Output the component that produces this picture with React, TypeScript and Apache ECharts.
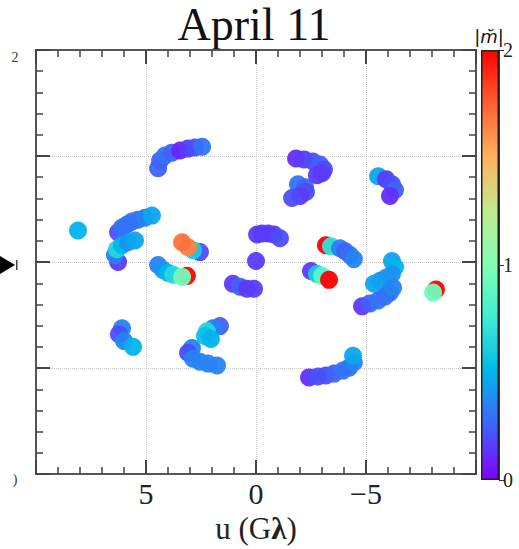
import React, { useEffect, useRef } from "react";
import * as echarts from "echarts";

// u coordinate (Gλ) of each visibility sample
const uVals = [
  // track A
  4.45, 4.36, 4.14, 3.82, 3.45, 3.09, 2.77, 2.45,
  // track B
  6.27, 6.09, 5.86, 5.64, 5.36, 5.05, 4.73,
  // isolated
  8.09,
  // track C
  6.27, 6.41, 6.32, 6.09, 5.82, 5.5,
  // track D
  2.55, 2.86, 3.09, 3.36,
  // track E
  4.45, 4.23, 4.0, 3.77, 3.14, 3.36,
  // track F
  1.05, 0.73, 0.41, 0.09,
  // centre
  0.0,
  // track G
  -0.05, -0.27, -0.55, -0.82, -1.09,
  // track H
  -3.18, -3.41, -3.82, -4.05, -4.27, -4.45,
  // track I
  -2.5, -2.77, -3.0, -3.32,
  // track J
  -6.18, -6.32, -6.18, -5.91, -5.64, -5.36,
  // track K
  -4.82, -5.18, -5.55, -5.86, -6.09, -6.23,
  // track L
  -8.18, -8.05,
  // track M
  -1.82, -2.18, -2.59, -2.91, -3.09, -3.0, -2.77,
  // track N
  -1.91, -2.23, -2.27, -2.0, -1.64,
  // track O
  -5.55, -5.91, -6.18, -6.32, -6.09,
  // track P
  6.09, 6.23, 6.0, 5.59,
  // track Q
  1.64, 1.95, 2.23, 2.32, 2.05, 2.91, 3.09, 2.86, 2.55, 2.18, 1.77,
  // track R
  -2.41, -2.82, -3.18, -3.55, -3.95, -4.23, -4.45, -4.41,
];

// v coordinate (Gλ)
const vVals = [
  4.42, 4.79, 5.02, 5.16, 5.26, 5.35, 5.4, 5.44,
  1.4, 1.63, 1.77, 1.91, 2.0, 2.09, 2.19,
  1.49,
  0.0, 0.33, 0.6, 0.79, 0.93, 1.02,
  0.47, 0.56, 0.7, 0.93,
  -0.14, -0.37, -0.51, -0.6, -0.65, -0.7,
  -1.02, -1.16, -1.26, -1.26,
  0.05,
  1.3, 1.35, 1.35, 1.3, 1.12,
  0.79, 0.74, 0.65, 0.51, 0.33, 0.14,
  -0.42, -0.56, -0.65, -0.84,
  0.05, -0.23, -0.56, -0.74, -0.88, -1.02,
  -2.09, -1.95, -1.81, -1.63, -1.44, -1.21,
  -1.3, -1.44,
  4.88, 4.84, 4.74, 4.6, 4.37, 4.19, 4.09,
  3.67, 3.53, 3.3, 3.12, 3.02,
  4.05, 3.91, 3.67, 3.4, 3.12,
  -3.12, -3.4, -3.72, -4.0,
  -3.02, -3.12, -3.26, -3.49, -3.63, -4.05, -4.28, -4.56, -4.7, -4.79, -4.88,
  -5.44, -5.4, -5.35, -5.26, -5.12, -4.98, -4.74, -4.42,
];

// |m| value of each sample (colour)
const mVals = [
  0.25, 0.25, 0.3, 0.25, 0.1, 0.15, 0.2, 0.3,
  0.2, 0.3, 0.3, 0.3, 0.3, 0.35, 0.45,
  0.5,
  0.15, 0.35, 0.65, 0.5, 0.4, 0.45,
  0.2, 0.6, 1.65, 1.7,
  0.35, 0.4, 0.5, 0.65, 2.0, 0.95,
  0.15, 0.25, 0.15, 0.15,
  0.15,
  0.15, 0.15, 0.15, 0.15, 0.2,
  2.0, 0.7, 0.35, 0.25, 0.3, 0.35,
  0.15, 0.6, 0.85, 2.0,
  0.45, 0.5, 0.4, 0.4, 0.4, 0.45,
  0.15, 0.25, 0.3, 0.3, 0.3, 0.35,
  2.0, 0.95,
  0.12, 0.15, 0.2, 0.25, 0.2, 0.15, 0.15,
  0.3, 0.25, 0.2, 0.15, 0.2,
  0.45, 0.15, 0.2, 0.25, 0.12,
  0.35, 0.2, 0.35, 0.5,
  0.25, 0.35, 0.65, 0.55, 0.5, 0.35, 0.2, 0.35, 0.35, 0.35, 0.35,
  0.12, 0.2, 0.2, 0.25, 0.3, 0.3, 0.35, 0.45,
];

const colorbarTicks = [0, 1, 2];
const xTickLabels = [5, 0, -5];

const rainbow = [
  "#8000ff", "#4062fa", "#00b5eb", "#40ecd4", "#80ffb4",
  "#c0eb8d", "#ffb360", "#ff6230", "#ff0000",
];

const serif = "Liberation Serif";

export default function App() {
  const ref = useRef<HTMLDivElement>(null);
  useEffect(() => {
    if (!ref.current) return;
    const chart = echarts.init(ref.current, null, { renderer: "svg" });
    const data = uVals.map((u, i) => [u, vVals[i], mVals[i]]);
    const fmt = (v: number) => (v < 0 ? "\u2212" + -v : String(v));

    const mainAxisCommon = {
      type: "value" as const,
      min: -10,
      max: 10,
      interval: 5,
      axisLine: { show: true, onZero: false, lineStyle: { color: "#555", width: 2 } },
      axisTick: { show: true, inside: true, length: 14, lineStyle: { color: "#444", width: 2 } },
      minorTick: { show: true, splitNumber: 5, length: 7, lineStyle: { color: "#444", width: 1.5 } },
    };

    const gradStops = rainbow.map((c, i) => ({ offset: i / (rainbow.length - 1), color: c }));

    chart.setOption({
      animation: false,
      backgroundColor: "#fff",
      grid: [
        { left: 36, top: 50, width: 440, height: 430 },
        { left: 481, top: 50, width: 18, height: 430 },
      ],
      xAxis: [
        {
          ...mainAxisCommon,
          gridIndex: 0,
          inverse: true,
          position: "bottom",
          splitLine: { show: true, lineStyle: { color: "#c8c8c8", type: "dotted", width: 1 } },
          axisLabel: {
            show: true,
            margin: 4,
            fontFamily: serif,
            fontSize: 30,
            color: "#222",
            showMinLabel: false,
            showMaxLabel: false,
            formatter: (v: number) => (xTickLabels.includes(v) ? fmt(v) : ""),
          },
          name: "{a|u (G}{b|λ}{a|)}",
          nameLocation: "middle",
          nameGap: 30,
          nameTextStyle: {
            rich: {
              a: { fontFamily: serif, fontSize: 31, color: "#222" },
              b: { fontFamily: serif, fontSize: 31, color: "#222", fontWeight: "bold" },
            },
          },
        },
        {
          ...mainAxisCommon,
          gridIndex: 0,
          inverse: true,
          position: "top",
          splitLine: { show: false },
          axisLabel: { show: false },
        },
        {
          type: "category",
          gridIndex: 1,
          data: ["c"],
          show: false,
        },
      ],
      yAxis: [
        {
          ...mainAxisCommon,
          gridIndex: 0,
          position: "left",
          splitLine: { show: true, lineStyle: { color: "#c8c8c8", type: "dotted", width: 1 } },
          axisLabel: { show: false },
        },
        {
          ...mainAxisCommon,
          gridIndex: 0,
          position: "right",
          splitLine: { show: false },
          axisLabel: { show: false },
        },
        {
          type: "value",
          gridIndex: 1,
          min: 0,
          max: 2,
          interval: 1,
          position: "right",
          axisLine: { show: true, lineStyle: { color: "#333", width: 1 } },
          axisTick: { show: true, inside: false, length: 5, lineStyle: { color: "#333", width: 1 } },
          splitLine: { show: false },
          axisLabel: {
            show: true,
            margin: 4,
            fontFamily: serif,
            fontSize: 20,
            color: "#222",
            formatter: (v: number) => (colorbarTicks.includes(v) ? String(v) : ""),
          },
        },
      ],
      visualMap: {
        type: "continuous",
        show: false,
        min: 0,
        max: 2,
        dimension: 2,
        seriesIndex: 0,
        inRange: { color: rainbow },
      },
      series: [
        {
          type: "scatter",
          xAxisIndex: 0,
          yAxisIndex: 0,
          symbol: "circle",
          symbolSize: 18,
          itemStyle: { opacity: 0.95 },
          data,
        },
        {
          type: "bar",
          xAxisIndex: 2,
          yAxisIndex: 2,
          barWidth: "100%",
          data: [2],
          itemStyle: {
            color: new echarts.graphic.LinearGradient(0, 1, 0, 0, gradStops),
            borderColor: "#222",
            borderWidth: 1.5,
          },
        },
      ],
      graphic: [
        {
          type: "text",
          x: 254,
          y: 24,
          style: {
            text: "April 11",
            font: `46px "${serif}"`,
            fill: "#111",
            textAlign: "center",
            textVerticalAlign: "middle",
          },
        },
        {
          type: "text",
          x: 489,
          y: 36,
          style: {
            text: "{a||}{b|m\u0306}{a||}",
            rich: {
              a: { fontFamily: "DejaVu Sans", fontSize: 18, fill: "#111" },
              b: { fontFamily: "DejaVu Sans", fontSize: 18, fontStyle: "italic", fill: "#111" },
            },
            textAlign: "center",
            textVerticalAlign: "middle",
          },
        },
        {
          type: "text",
          x: 15,
          y: 57,
          style: { text: "2", font: `14px "${serif}"`, fill: "#333", textAlign: "center", textVerticalAlign: "middle" },
        },
        {
          type: "text",
          x: 15,
          y: 479,
          style: { text: ")", font: `14px "${serif}"`, fill: "#333", textAlign: "center", textVerticalAlign: "middle" },
        },
        {
          type: "polygon",
          shape: { points: [[0, 256], [15, 265], [0, 274]] },
          style: { fill: "#000" },
        },
        {
          type: "rect",
          shape: { x: 16, y: 260, width: 1.5, height: 10 },
          style: { fill: "#444" },
        },
      ],
    });
    return () => chart.dispose();
  }, []);
  return <div ref={ref} style={{ width: 519, height: 549, position: "absolute", left: 0, top: 0 }} />;
}
